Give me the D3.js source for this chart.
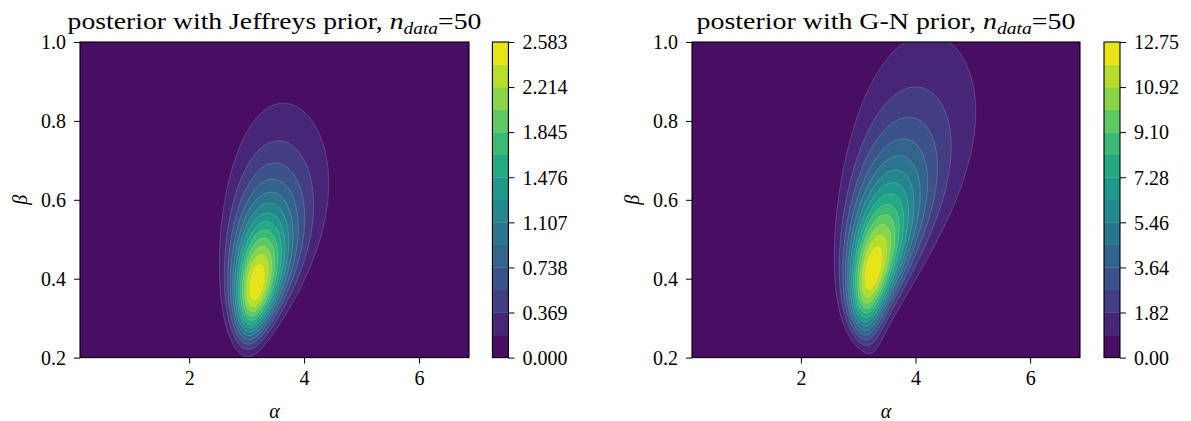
<!DOCTYPE html>
<html>
<head>
<meta charset="utf-8">
<script src="https://cdn.jsdelivr.net/npm/d3@7"></script>
<style>
  html, body { margin: 0; padding: 0; background: #fff; }
  svg { display: block; }
</style>
</head>
<body>
<svg id="chart" width="1191" height="421"></svg>
<script>
// ---------------- data ----------------
const alphaDomain = [0.1, 6.87];
const betaDomain = [0.2, 1.0];
const xTicks = [2, 4, 6];
const xTickLabels = ["2", "4", "6"];
const yTicks = [0.2, 0.4, 0.6, 0.8, 1.0];
const yTickLabels = ["0.2", "0.4", "0.6", "0.8", "1.0"];
const panelPriors = ["Jeffreys", "G-N"];
const panelMaxima = [2.583, 12.75];             // top contour level
const nBands = 14;                               // filled contour bands
const cbarTickLabelsJeffreys = ["0.000", "0.369", "0.738", "1.107", "1.476", "1.845", "2.214", "2.583"];
const cbarTickLabelsGN = ["0.00", "1.82", "3.64", "5.46", "7.28", "9.10", "10.92", "12.75"];
// posterior shape:
// [boxcox lambda for beta, ridge centre v0, sd along v, log-alpha centre m0, tilt a1, curvature a2, log-alpha sd s0, sd growth c]
const jeffreysShape = [-0.25, -1.267, 0.0975, 1.155, 0.418, 0.87, 0.098, 2.7];
const gnShape = [-0.30, -1.2954, 0.131, 1.18, 0.4625, 1.313, 0.100, 2.5];

// ---------------- layout ----------------
const FONT = '"Liberation Serif", "Times New Roman", serif';
const svg = d3.select("#chart");
const nA = 110, nB = 100;
const panels = [
  { x0: 80, x1: 469, cb0: 492.4, prior: panelPriors[0], zmax: panelMaxima[0], shape: jeffreysShape, cbLabels: cbarTickLabelsJeffreys, titleW: 414 },
  { x0: 692, x1: 1080, cb0: 1104, prior: panelPriors[1], zmax: panelMaxima[1], shape: gnShape, cbLabels: cbarTickLabelsGN, titleW: 379 }
];
const y0 = 42, y1 = 357.6, cbW = 16;
const bandColor = i => d3.interpolateViridis((i + 0.5) / nBands);

function density(shape, zmax, a, b) {
  const [lam, v0, sv, m0, a1, a2, s0, c] = shape;
  const v = -Math.pow(b, lam);
  const d = v - v0;
  const m = m0 + a1 * d + a2 * d * d;
  const s = s0 * Math.exp(c * d);
  const l = Math.log(a);
  const lz = -0.5 * (d / sv) * (d / sv) - 0.5 * ((l - m) / s) * ((l - m) / s);
  return zmax * Math.exp(lz);
}

function styleText(sel, size) {
  sel.style("font-family", FONT).style("font-size", size).style("fill", "#000");
}

panels.forEach((p, pi) => {
  const x = d3.scaleLinear().domain(alphaDomain).range([p.x0, p.x1]);
  const y = d3.scaleLinear().domain(betaDomain).range([y1, y0]);
  const g = svg.append("g");

  const clipId = "clip" + pi;
  svg.append("clipPath").attr("id", clipId)
    .append("rect").attr("x", p.x0).attr("y", y0).attr("width", p.x1 - p.x0).attr("height", y1 - y0);

  // grid
  const dA = (alphaDomain[1] - alphaDomain[0]) / (nA - 1);
  const dB = (betaDomain[1] - betaDomain[0]) / (nB - 1);
  const values = new Array(nA * nB);
  for (let j = 0; j < nB; j++) {
    const b = betaDomain[0] + j * dB;
    for (let i = 0; i < nA; i++) {
      const a = alphaDomain[0] + i * dA;
      values[j * nA + i] = density(p.shape, p.zmax, a, b);
    }
  }
  const levels = d3.range(nBands + 1).map(k => p.zmax * k / nBands);
  const contours = d3.contours().size([nA, nB]).thresholds(levels.slice(1, nBands))(values);
  const proj = d3.geoTransform({
    point: function (cx, cy) {
      this.stream.point(x(alphaDomain[0] + (cx - 0.5) * dA), y(betaDomain[0] + (cy - 0.5) * dB));
    }
  });
  const path = d3.geoPath(proj);

  const plot = g.append("g").attr("clip-path", `url(#${clipId})`);
  plot.append("rect").attr("x", p.x0).attr("y", y0).attr("width", p.x1 - p.x0).attr("height", y1 - y0)
    .attr("fill", bandColor(0));
  plot.selectAll("path.band").data(contours).join("path")
    .attr("class", "band")
    .attr("d", path)
    .attr("fill", (c, k) => bandColor(k + 1))
    .attr("stroke", "rgba(255,255,255,0.28)")
    .attr("stroke-width", 0.6);

  // axes
  const xAxis = g.append("g").attr("transform", `translate(0,${y1})`)
    .call(d3.axisBottom(x).tickValues(xTicks).tickFormat((t, k) => xTickLabels[k]).tickSize(6).tickPadding(7));
  const yAxis = g.append("g").attr("transform", `translate(${p.x0},0)`)
    .call(d3.axisLeft(y).tickValues(yTicks).tickFormat((t, k) => yTickLabels[k]).tickSize(6).tickPadding(8));
  [xAxis, yAxis].forEach(ax => {
    ax.attr("font-family", null).attr("font-size", null);
    ax.select(".domain").remove();
    ax.selectAll("line").attr("stroke", "#000").attr("stroke-width", 1);
    styleText(ax.selectAll("text"), "20px");
  });
  xAxis.selectAll("text").attr("dy", "0.71em");
  yAxis.selectAll("text").attr("dy", "0.34em");

  g.append("rect").attr("x", p.x0).attr("y", y0).attr("width", p.x1 - p.x0).attr("height", y1 - y0)
    .attr("fill", "none").attr("stroke", "#000").attr("stroke-width", 1.1);

  // axis labels
  styleText(g.append("text").attr("x", (p.x0 + p.x1) / 2).attr("y", 418).attr("text-anchor", "middle")
    .style("font-style", "italic").text("α"), "20px");
  styleText(g.append("text").attr("transform", `translate(${p.x0 - 60},${(y0 + y1) / 2}) rotate(-90)`)
    .attr("text-anchor", "middle").attr("dy", "0.35em")
    .style("font-style", "italic").text("β"), "20px");

  // title
  const cx = (p.x0 + p.x1) / 2;
  const title = g.append("text").attr("x", 0).attr("y", 0).attr("text-anchor", "middle");
  styleText(title, "23.5px");
  title.append("tspan").text(`posterior with ${p.prior} prior, `);
  title.append("tspan").style("font-style", "italic").text("n");
  title.append("tspan").style("font-style", "italic").style("font-size", "16.5px").attr("dy", 5).text("data");
  title.append("tspan").attr("dy", -5).text("=50");
  const bw = title.node().getBBox().width;
  const sx = Math.max(0.85, Math.min(1.25, p.titleW / bw));
  title.attr("transform", `translate(${cx},29) scale(${sx},1)`);

  // colorbar
  const cy = d3.scaleLinear().domain([0, p.zmax]).range([y1, y0]);
  const cb = g.append("g");
  cb.selectAll("rect.cb").data(d3.range(nBands)).join("rect")
    .attr("class", "cb")
    .attr("x", p.cb0).attr("width", cbW)
    .attr("y", k => cy(levels[k + 1]))
    .attr("height", k => cy(levels[k]) - cy(levels[k + 1]) + 0.3)
    .attr("fill", k => bandColor(k));
  cb.append("rect").attr("x", p.cb0).attr("y", y0).attr("width", cbW).attr("height", y1 - y0)
    .attr("fill", "none").attr("stroke", "#000").attr("stroke-width", 1.1);
  const cbTickVals = d3.range(0, nBands + 1, 2).map(k => levels[k]);
  const cbAxis = cb.append("g").attr("transform", `translate(${p.cb0 + cbW},0)`)
    .call(d3.axisRight(cy).tickValues(cbTickVals).tickFormat((t, k) => p.cbLabels[k]).tickSize(6).tickPadding(8));
  cbAxis.attr("font-family", null).attr("font-size", null);
  cbAxis.select(".domain").remove();
  cbAxis.selectAll("line").attr("stroke", "#000").attr("stroke-width", 1);
  styleText(cbAxis.selectAll("text"), "20px");
  cbAxis.selectAll("text").attr("dy", "0.34em");
});
</script>
</body>
</html>
